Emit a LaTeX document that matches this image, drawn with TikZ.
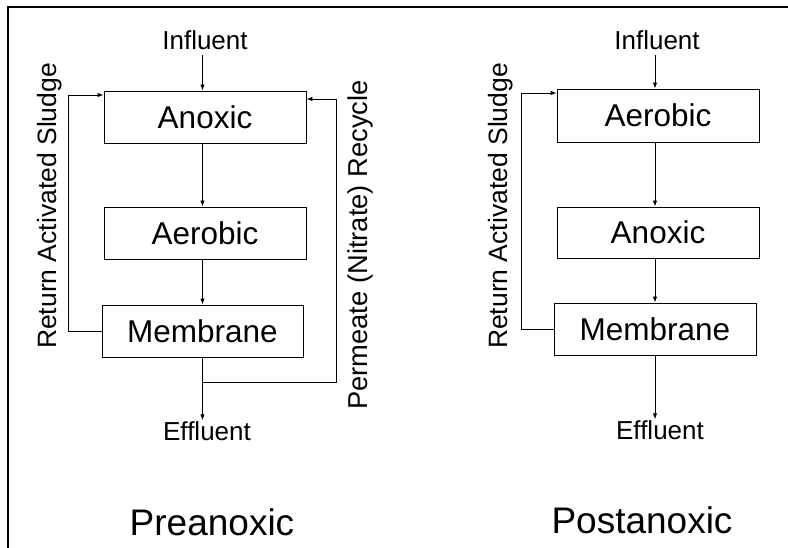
\documentclass[tikz,border=0pt]{standalone}
\usepackage{fontspec}
\setmainfont{Liberation Sans}
\usetikzlibrary{arrows.meta}
\begin{document}
\begin{tikzpicture}[x=1pt,y=-1pt,
  tank/.style={draw, line width=0.9pt, rectangle, minimum width=202pt, minimum height=52pt, inner sep=0pt, font=\fontsize{31.5}{36}\selectfont},
  lbl/.style={inner sep=5pt, font=\fontsize{26}{30}\selectfont},
  vlbl/.style={inner sep=0pt, rotate=90, font=\fontsize{26.5}{30}\selectfont},
  title/.style={inner sep=0pt, font=\fontsize{37}{42}\selectfont},
  flow/.style={draw, line width=0.9pt},
  arr/.style={flow, -{Latex[length=6pt,width=4.5pt]}}
]
\useasboundingbox (0,0) rectangle (788,548);
% frame
\draw[line width=2pt] (788,6.7) -- (7.7,6.7) -- (7.7,548);

% ---------- Preanoxic ----------
\node[tank] (anoxL) at (205,117) {Anoxic};
\node[tank] (aerL) at (205,233) {Aerobic};
\node[tank, minimum width=201pt] (memL) at (202.5,331) {Membrane};
\node[lbl] (infL) at (205,40) {Influent};
\node[lbl] (effL) at (207,431) {Effluent};
\node[title] (tL) at (212,522.5) {Preanoxic};
\node[vlbl] (rasTL) at (50,206) {Return Activated Sludge};
\node[vlbl, font=\fontsize{27.3}{30}\selectfont] (perTL) at (360,245) {Permeate (Nitrate) Recycle};
\coordinate (rasL) at (68,95);
\coordinate (jL) at (202.5,382);
\coordinate (pL) at (336,99);

\draw[arr] (infL.south -| memL) -- (anoxL.north -| memL);
\draw[arr] (anoxL.south -| memL) -- (aerL.north -| memL);
\draw[arr] (aerL.south -| memL) -- (memL.north);
\draw[arr] (memL.west) -- (memL.west -| rasL) -- (rasL) -- (rasL -| anoxL.west);
\draw[arr] (memL.south) -- (jL) -- (jL -| pL) -- (pL) -- (pL -| anoxL.east);
\draw[arr] (jL) -- ([yshift=-4pt]effL.north -| jL);

% ---------- Postanoxic ----------
\node[tank, minimum height=53pt] (aerR) at (658,115.5) {Aerobic};
\node[tank, minimum height=51pt] (anoxR) at (658,232.5) {Anoxic};
\node[tank] (memR) at (655,329) {Membrane};
\node[lbl] (infR) at (657,40) {Influent};
\node[lbl] (effR) at (660,430) {Effluent};
\node[title] (tR) at (642,520.5) {Postanoxic};
\node[vlbl] (rasTR) at (501,206) {Return Activated Sludge};
\coordinate (rasR) at (521,93);

\draw[arr] (infR.south -| memR) -- (aerR.north -| memR);
\draw[arr] (aerR.south -| memR) -- (anoxR.north -| memR);
\draw[arr] (anoxR.south -| memR) -- (memR.north);
\draw[arr] (memR.west) -- (memR.west -| rasR) -- (rasR) -- (rasR -| aerR.west);
\draw[arr] (memR.south) -- ([yshift=-4pt]effR.north -| memR);
\end{tikzpicture}
\end{document}
